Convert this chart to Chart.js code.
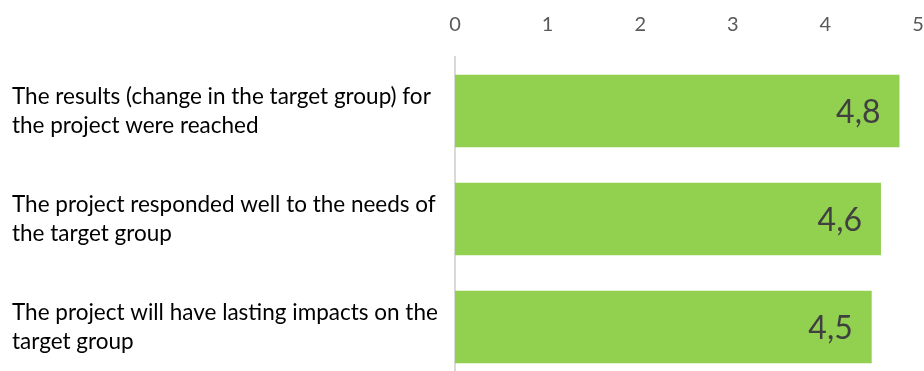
<!DOCTYPE html>
<html>
<head>
<meta charset="utf-8">
<script src="https://cdn.jsdelivr.net/npm/chart.js@4"></script>
<style>
  html, body { margin: 0; padding: 0; background: #fff; overflow: hidden; }
  #wrap { position: relative; width: 924px; height: 381px; }
</style>
</head>
<body>
<div id="wrap"><canvas id="ratingChart"></canvas></div>
<script>
// Survey statements (one array per wrapped line) and average scores
const statements = [
    ['The results (change in the target group) for', 'the project were reached'],
    ['The project responded well to the needs of', 'the target group'],
    ['The project will have lasting impacts on the', 'target group']
];
const scores = [4.8, 4.6, 4.5];
const scaleTicks = [0, 1, 2, 3, 4, 5];

const barColor = '#92D050';

// Writes the score inside the end of each bar, with a decimal comma
const barValueLabels = {
    id: 'barValueLabels',
    afterDatasetsDraw(chart) {
        const { ctx } = chart;
        const meta = chart.getDatasetMeta(0);
        ctx.save();
        ctx.font = '32px Lato, "Open Sans", sans-serif';
        ctx.fillStyle = '#404040';
        ctx.textAlign = 'right';
        ctx.textBaseline = 'middle';
        meta.data.forEach((bar, i) => {
            const text = scores[i].toFixed(1).replace('.', ',');
            ctx.fillText(text, bar.x - 19, bar.y + 2);
        });
        ctx.restore();
    }
};

const ctx = document.getElementById('ratingChart').getContext('2d');
const ratingChart = new Chart(ctx, {
    type: 'bar',
    data: {
        labels: statements,
        datasets: [{
            data: scores,
            backgroundColor: barColor,
            borderWidth: 0,
            categoryPercentage: 0.67,
            barPercentage: 1
        }]
    },
    options: {
        indexAxis: 'y',
        responsive: true,
        maintainAspectRatio: false,
        animation: false,
        layout: { padding: { left: 12, right: 6, top: 0, bottom: 0 } },
        plugins: {
            legend: { display: false },
            tooltip: { enabled: false }
        },
        scales: {
            x: {
                position: 'top',
                min: 0,
                max: 5,
                afterBuildTicks(axis) {
                    axis.ticks = scaleTicks.map(v => ({ value: v }));
                },
                afterFit(axis) {
                    axis.height = 57;
                    axis.paddingLeft = 0;
                    axis.paddingRight = 0;
                },
                grid: { display: false },
                border: { display: false },
                ticks: {
                    color: '#595959',
                    padding: 12,
                    font: { family: 'Lato, "Open Sans", sans-serif', size: 20 }
                }
            },
            y: {
                afterFit(axis) {
                    axis.width = 443;
                    axis.paddingTop = 0;
                    axis.paddingBottom = 0;
                },
                grid: { display: false },
                border: { display: true, color: '#d9d9d9', width: 2 },
                ticks: {
                    color: '#000000',
                    crossAlign: 'far',
                    font: { family: 'Lato, "Open Sans", sans-serif', size: 22.5, lineHeight: 1.29 }
                }
            }
        }
    },
    plugins: [barValueLabels]
});
</script>
</body>
</html>
